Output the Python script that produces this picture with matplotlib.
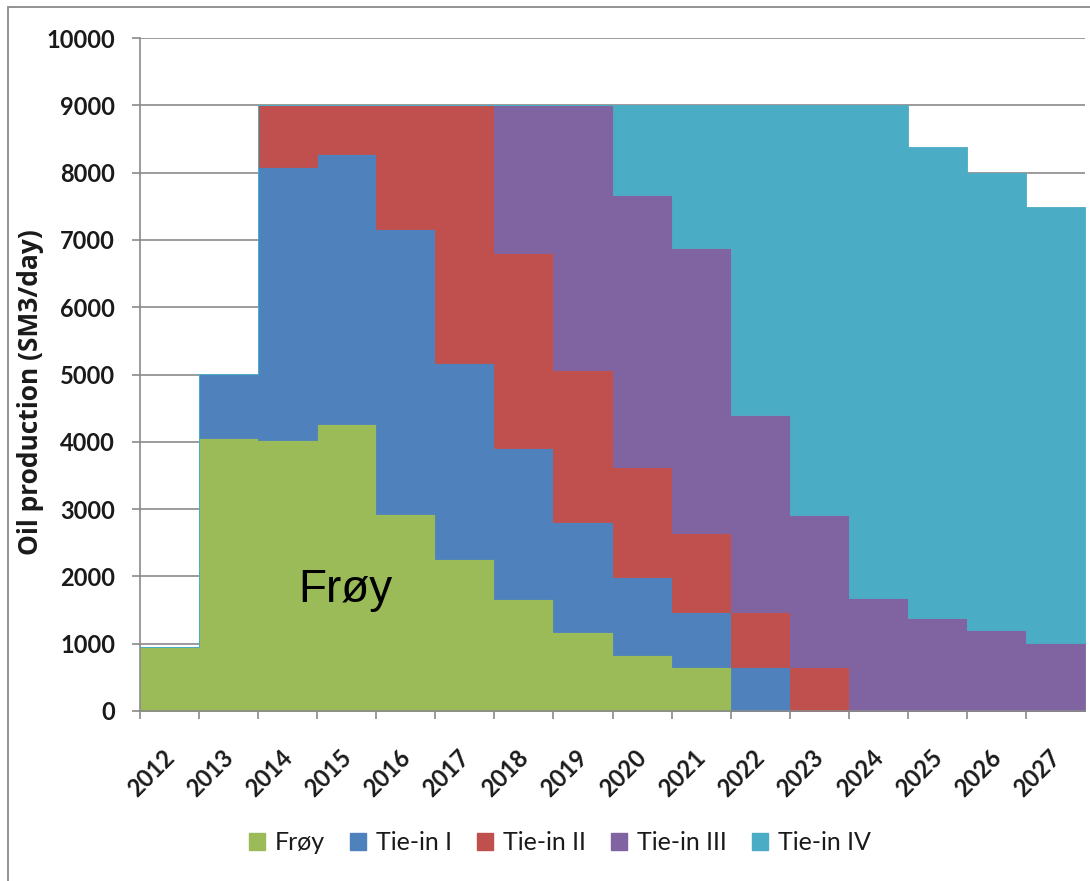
import matplotlib
matplotlib.use("Agg")
import matplotlib.pyplot as plt
import matplotlib.transforms as mtransforms
from matplotlib.patches import Rectangle, Patch
import numpy as np

# Oil production profile per field, SM3/day, one value per year
years = [2012, 2013, 2014, 2015, 2016, 2017, 2018, 2019,
         2020, 2021, 2022, 2023, 2024, 2025, 2026, 2027]
froy = [950, 4050, 4030, 4260, 2930, 2260, 1670, 1180,
        830, 655, 0, 0, 0, 0, 0, 0]
tie_in_1 = [0, 950, 4050, 4020, 4230, 2910, 2240, 1630,
            1160, 815, 655, 0, 0, 0, 0, 0]
tie_in_2 = [0, 0, 920, 720, 1840, 3830, 2900, 2260,
            1640, 1180, 815, 655, 0, 0, 0, 0]
tie_in_3 = [0, 0, 0, 0, 0, 0, 2190, 3930,
            4040, 4230, 2930, 2255, 1680, 1380, 1200, 1010]
tie_in_4 = [0, 0, 0, 0, 0, 0, 0, 0,
            1330, 2120, 4600, 6090, 7320, 7000, 6790, 6480]

series_names = ["Frøy", "Tie-in I", "Tie-in II", "Tie-in III", "Tie-in IV"]
series_values = [froy, tie_in_1, tie_in_2, tie_in_3, tie_in_4]
colors = ["#9BBB59", "#4F81BD", "#C0504D", "#8064A2", "#4BACC6"]

W, H = 1090, 881
fig = plt.figure(figsize=(W / 100, H / 100), dpi=100)
fig.patch.set_facecolor("white")

# thin frame around the chart area
fig.patches.append(Rectangle((8 / W, -0.05), 1.2, 1 - 7 / H + 0.05,
                             transform=fig.transFigure, fill=False,
                             edgecolor="#8a8a8a", linewidth=1.3))

ax = fig.add_axes([140 / W, 1 - 711 / H, (1085 - 140) / W, (711 - 38) / H])

# each year occupies the interval [year, year + 1]
x_edges = np.array(years + [years[-1] + 1], dtype=float)
bottom = np.zeros(len(years) + 1)
for name, vals, col in zip(series_names, series_values, colors):
    v = np.array(vals + [vals[-1]], dtype=float)
    top = bottom + v
    ax.fill_between(x_edges, bottom, top, step="post", facecolor=col,
                    edgecolor=col, linewidth=0.6, zorder=2)
    bottom = top

ax.set_xlim(years[0], years[-1] + 1)
ax.set_ylim(0, 10000)
ax.set_yticks(np.arange(0, 10001, 1000))
ax.set_xticks(years)

ax.grid(axis="y", color="#8a8a8a", linewidth=1.2, zorder=1)
ax.set_axisbelow(True)

for side in ("top", "right"):
    ax.spines[side].set_visible(False)
for side in ("left", "bottom"):
    ax.spines[side].set_color("#8a8a8a")
    ax.spines[side].set_linewidth(1.2)
    ax.spines[side].set_zorder(3)

tick_font = dict(family=["Lato", "DejaVu Sans"], weight="bold", size=17)
ax.tick_params(axis="both", direction="out", length=6, width=1.2,
               color="#8a8a8a", labelcolor="#1a1a1a")
ax.tick_params(axis="y", pad=12)
ax.tick_params(axis="x", pad=19)

ax.set_yticklabels([str(v) for v in range(0, 10001, 1000)], **tick_font)
ax.set_xticklabels([str(y) for y in years], rotation=45, ha="center",
                   va="top", **tick_font)
shift = mtransforms.ScaledTranslation(11 / 100, 0, fig.dpi_scale_trans)
for lbl in ax.get_xticklabels():
    lbl.set_transform(lbl.get_transform() + shift)

fig.text(31 / W, 1 - 392 / H, "Oil production (SM3/day)", rotation=90,
         ha="center", va="center", family=["Open Sans", "DejaVu Sans"],
         weight="bold", size=19, color="#1a1a1a")

# field name written on its own area
ax.text(2015.48, 1620, "Frøy", ha="center", va="baseline",
        family=["Liberation Sans", "DejaVu Sans"], size=33, color="black",
        zorder=4)

handles = [Patch(facecolor=c, edgecolor=c) for c in colors]
fig.legend(handles, series_names, loc="center",
           bbox_to_anchor=(560 / W, 1 - 843 / H), ncol=5, frameon=False,
           prop=dict(family=["Lato", "DejaVu Sans"], size=18),
           handlelength=0.64, handleheight=0.64, handletextpad=0.4,
           columnspacing=1.0, labelcolor="#1a1a1a")

fig.savefig("out.png", dpi=100, facecolor="white")
